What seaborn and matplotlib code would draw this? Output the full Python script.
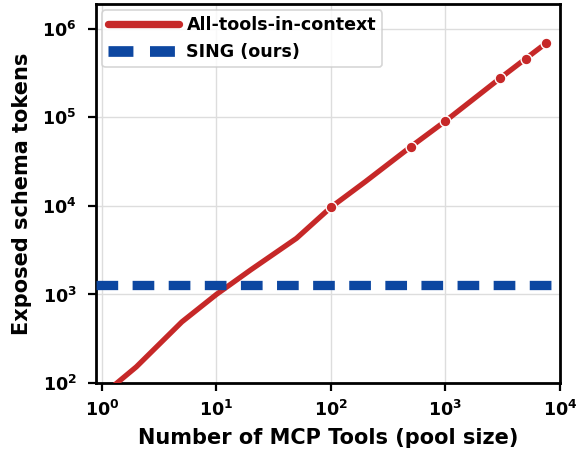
import matplotlib
matplotlib.use("Agg")
import matplotlib.pyplot as plt
import seaborn as sns
import pandas as pd

# ---- data ----
pool_size = [1, 2, 5, 10, 20, 50, 100, 200, 500, 1000, 3000, 5000, 7500]
all_tools_tokens = [72, 152, 490, 1000, 1900, 4300, 9650, 18800, 46800, 91000, 277000, 459000, 684000]
marker_pool = [100, 500, 1000, 3000, 5000, 7500]
marker_tokens = [9650, 46800, 91000, 277000, 459000, 684000]
sing_tokens = 1280

series_labels = ["All-tools-in-context", "SING (ours)"]
x_label = "Number of MCP Tools (pool size)"
y_label = "Exposed schema tokens"

RED = "#C62828"
BLUE = "#0D47A1"

sns.set_theme(style="whitegrid")
plt.rcParams.update({
    "font.family": ["DejaVu Sans"],
    "font.weight": "bold",
    "text.color": "black",
    "axes.labelcolor": "black",
    "axes.labelweight": "bold",
    "mathtext.fontset": "custom",
    "mathtext.rm": "DejaVu Sans:bold",
    "mathtext.it": "DejaVu Sans:bold",
    "mathtext.bf": "DejaVu Sans:bold",
    "axes.edgecolor": "black",
    "axes.linewidth": 2.0,
    "grid.color": "#dddddd",
    "grid.linewidth": 1.0,
    "xtick.bottom": True,
    "ytick.left": True,
    "xtick.color": "black",
    "ytick.color": "black",
})

df = pd.DataFrame({"pool": pool_size, "tokens": all_tools_tokens})
dm = pd.DataFrame({"pool": marker_pool, "tokens": marker_tokens})

fig = plt.figure(figsize=(5.87, 4.53), dpi=100)
ax = fig.add_axes([0.1635, 0.1545, 0.7905, 0.8365])

sns.lineplot(data=df, x="pool", y="tokens", ax=ax, color=RED, linewidth=3.8,
             label=series_labels[0], zorder=3)
sns.scatterplot(data=dm, x="pool", y="tokens", ax=ax, color=RED, s=60,
                edgecolor="white", linewidth=1.0, zorder=4, legend=False)
ax.axhline(sing_tokens, color=BLUE, linewidth=6.7, dashes=(2.33, 1.55),
           label=series_labels[1], zorder=3, solid_capstyle="butt", dash_capstyle="butt")

ax.set_xscale("log")
ax.set_yscale("log")
ax.set_xlim(0.89, 1e4)
ax.set_ylim(100, 10 ** 6.28)
ax.xaxis.set_minor_locator(matplotlib.ticker.NullLocator())
ax.yaxis.set_minor_locator(matplotlib.ticker.NullLocator())

ax.set_xlabel(x_label, fontsize=15, fontweight="bold", labelpad=6)
ax.set_ylabel(y_label, fontsize=15, fontweight="bold", labelpad=7)
ax.tick_params(axis="both", which="major", labelsize=12.65, length=6, width=1.6,
               direction="out")
ax.tick_params(axis="x", pad=6)
ax.tick_params(axis="y", pad=8)
for lab in ax.get_xticklabels() + ax.get_yticklabels():
    lab.set_fontweight("bold")

for sp in ax.spines.values():
    sp.set_visible(True)
    sp.set_color("black")
    sp.set_linewidth(2.0)

leg = ax.legend(loc="upper left", fontsize=12.65, handlelength=4.0, frameon=True,
                fancybox=True, borderaxespad=0.35, borderpad=0.35,
                handletextpad=0.45)
for t in leg.get_texts():
    t.set_fontweight("bold")
    t.set_color("black")
leg.get_frame().set_edgecolor("#cccccc")
leg.get_frame().set_linewidth(1.2)
hl = leg.get_lines()
hl[0].set_linewidth(5.3)
hl[1].set_linewidth(7.7)

fig.savefig("out.png", dpi=100)
